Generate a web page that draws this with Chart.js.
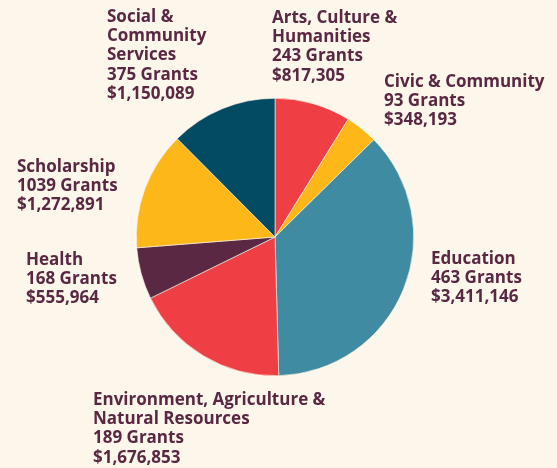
<!DOCTYPE html>
<html>
<head>
<meta charset="utf-8">
<script src="https://cdn.jsdelivr.net/npm/chart.js@4/dist/chart.umd.min.js"></script>
<style>
  html, body { margin: 0; padding: 0; background: #FDF6EB; }
  #wrap { width: 557px; height: 468px; }
</style>
</head>
<body>
<div id="wrap"><canvas id="c" width="557" height="468"></canvas></div>
<script>
// ---- data ----
const categories = [
  'Arts, Culture &\nHumanities',
  'Civic & Community',
  'Education',
  'Environment, Agriculture &\nNatural Resources',
  'Health',
  'Scholarship',
  'Social &\nCommunity\nServices'
];
const grantCounts = [243, 93, 463, 189, 168, 1039, 375];
const grantDollars = [817305, 348193, 3411146, 1676853, 555964, 1272891, 1150089];

// ---- style / layout ----
const sliceColors = ['#EF3E44', '#FDB718', '#3F8BA1', '#EF3E44', '#5A2843', '#FDB718', '#034B63'];
const textColor = '#5A2843';
const labelFont = '700 17px "Open Sans"';
const lineHeight = 19.2;
// left x, first baseline y for each label block
const labelAnchors = [
  [272, 23], [384, 87], [431, 264], [93, 405], [26, 265], [17, 171.5], [107, 22]
];

const labelPlugin = {
  id: 'sliceLabels',
  afterDraw(chart) {
    const ctx = chart.ctx;
    ctx.save();
    ctx.fillStyle = textColor;
    ctx.font = labelFont;
    ctx.textBaseline = 'alphabetic';
    ctx.textAlign = 'left';
    categories.forEach((cat, i) => {
      const lines = cat.split('\n');
      lines.push(grantCounts[i] + ' Grants');
      lines.push('$' + grantDollars[i].toLocaleString('en-US'));
      const [x, y] = labelAnchors[i];
      lines.forEach((ln, j) => ctx.fillText(ln, x, y + j * lineHeight));
    });
    ctx.restore();
  }
};

new Chart(document.getElementById('c'), {
  type: 'pie',
  data: {
    labels: categories.map(c => c.replace(/\n/g, ' ')),
    datasets: [{
      data: grantDollars,
      backgroundColor: sliceColors,
      borderColor: '#FDF6EB',
      borderWidth: 0.6
    }]
  },
  options: {
    responsive: false,
    animation: false,
    layout: { padding: { top: 98, bottom: 92, left: 136, right: 143 } },
    plugins: { legend: { display: false }, tooltip: { enabled: false } }
  },
  plugins: [labelPlugin]
});
</script>
</body>
</html>
